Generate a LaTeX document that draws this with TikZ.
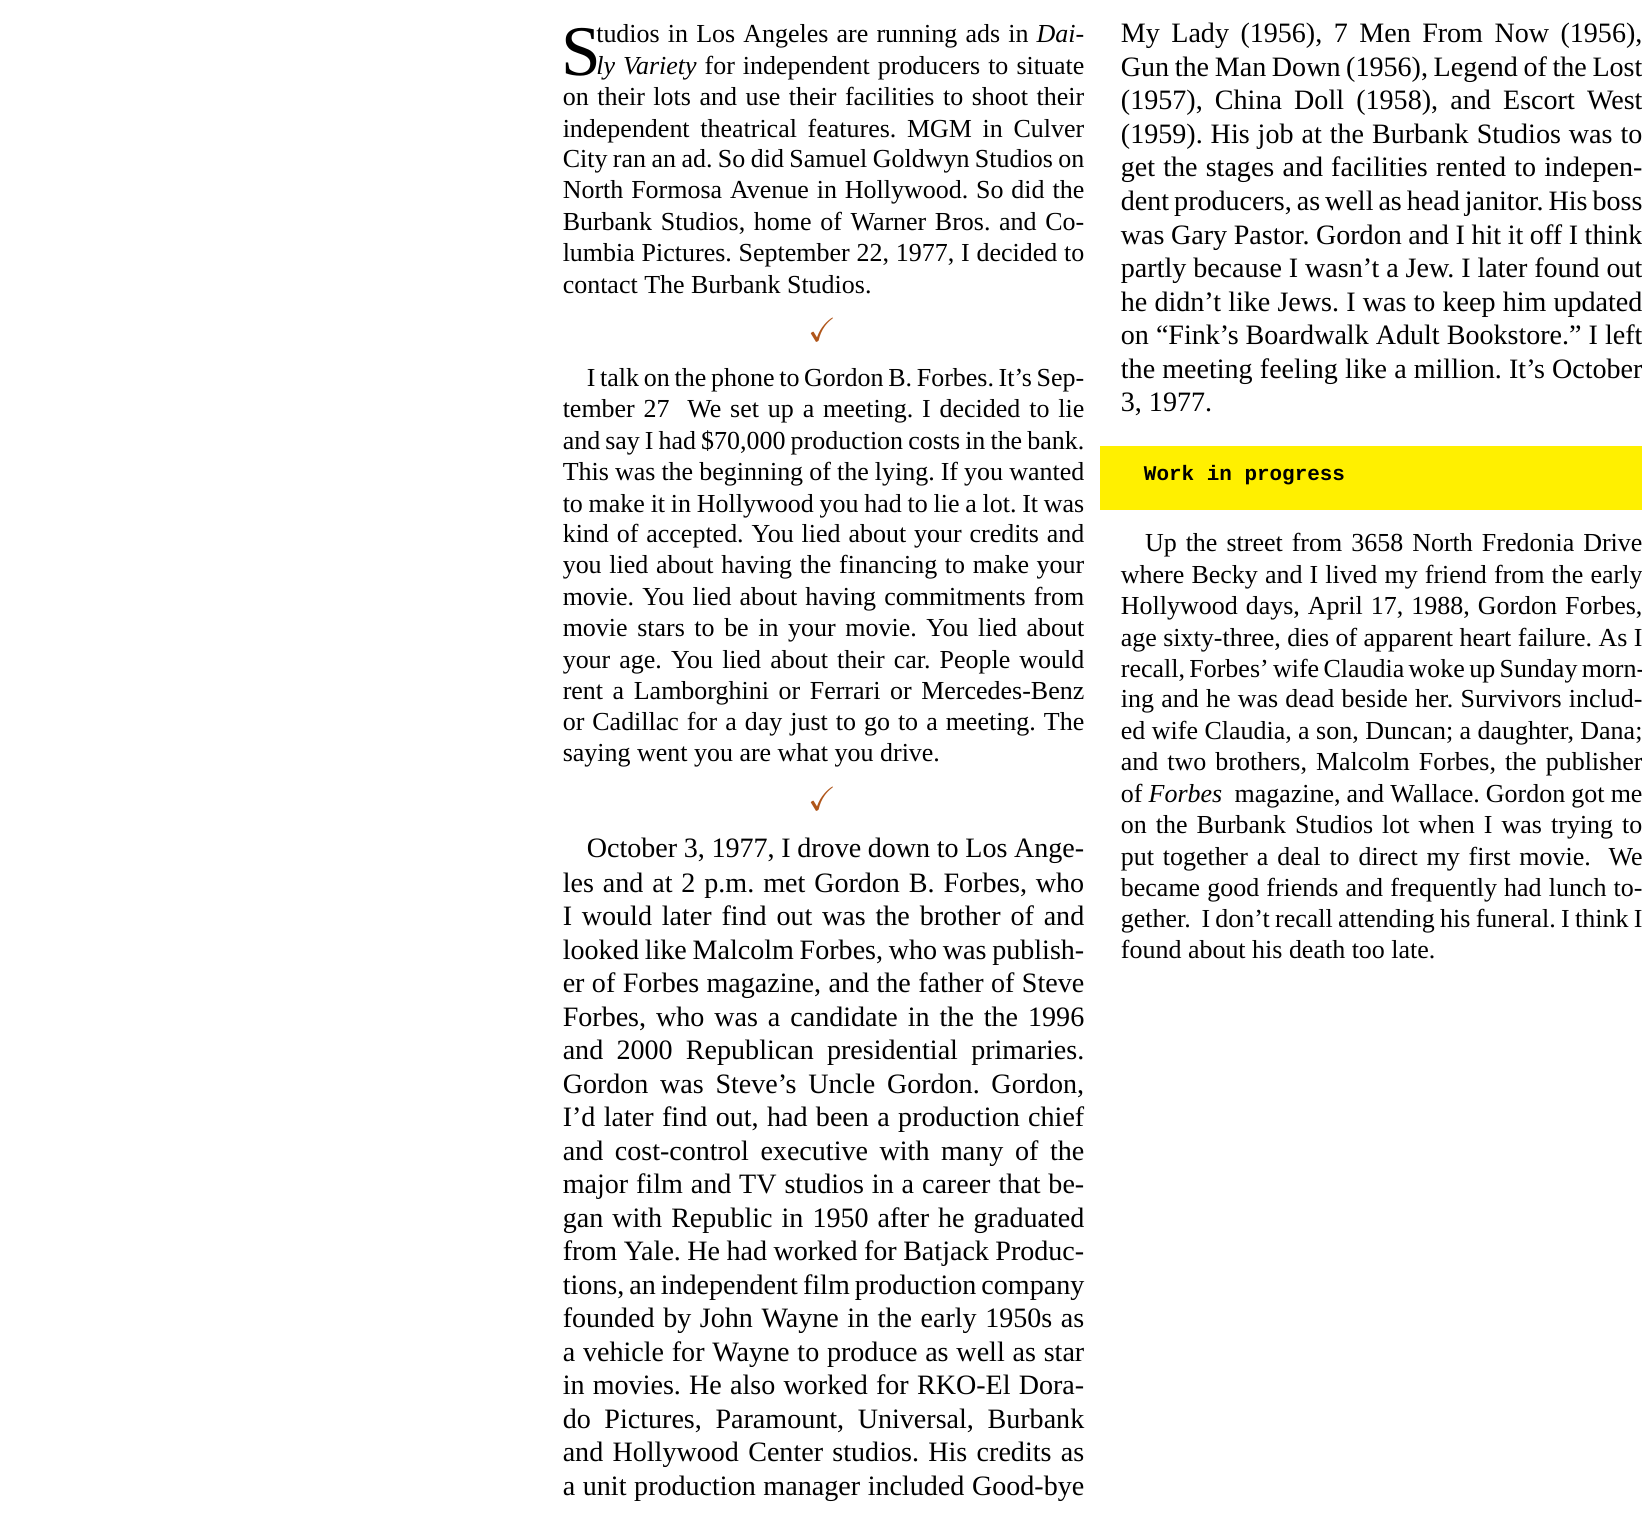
\documentclass[tikz,border=0pt]{standalone}
\usepackage{fontspec}
\usepackage{amssymb}
\setmainfont{Liberation Serif}
\newfontfamily\cour{Liberation Mono}
\definecolor{chk}{HTML}{B0561A}
\definecolor{yel}{HTML}{FFF000}
\frenchspacing
\newcommand\fa{\fontsize{12.4}{15}\selectfont}
\newcommand\fb{\fontsize{13.4}{16}\selectfont}
\newcommand\jw[4]{\node[anchor=base west,inner sep=0] at (#1,#2+7) {\makebox[#3pt][s]{#4}};}
\newcommand\nl[3]{\node[anchor=base west,inner sep=0] at (#1,#2+7) {#3};}
\begin{document}
\begin{tikzpicture}[x=0.5pt,y=-0.5pt]
\useasboundingbox (0,0) rectangle (1568,1448);
\fill[yel] (1050,426) rectangle (1568,487);
\node[anchor=west,inner sep=0] at (1092,454) {\cour\bfseries\fontsize{10}{12}\selectfont Work in progress};
% column 1 top
\fa
\node[anchor=base west,inner sep=0] at (536,72) {\fontsize{34}{34}\selectfont S};
\jw{569}{34}{233}{tudios in Los Angeles are running ads in \textit{Dai-}}
\jw{569}{64}{233}{\textit{ly Variety} for independent producers to situate}
\jw{537}{94}{249}{on their lots and use their facilities to shoot their}
\jw{537}{124}{249}{independent theatrical features. MGM in Culver}
\jw{537}{153}{249}{City ran an ad. So did Samuel Goldwyn Studios on}
\jw{537}{183}{249}{North Formosa Avenue in Hollywood. So did the}
\jw{537}{213}{249}{Burbank Studios, home of Warner Bros. and Co-}
\jw{537}{243}{249}{lumbia Pictures. September 22, 1977, I decided to}
\nl{537}{273}{contact The Burbank Studios.}
\node[text=chk,inner sep=0] (c1) at (785,315) {\fontsize{16}{16}\selectfont\checkmark};
\jw{560}{362}{237.5}{I talk on the phone to Gordon B. Forbes. It's Sep-}
\jw{537}{392}{249}{tember 27\ \ We set up a meeting. I decided to lie}
\jw{537}{422}{249}{and say I had \$70,000 production costs in the bank.}
\jw{537}{452}{249}{This was the beginning of the lying. If you wanted}
\jw{537}{482}{249}{to make it in Hollywood you had to lie a lot. It was}
\jw{537}{511}{249}{kind of accepted. You lied about your credits and}
\jw{537}{541}{249}{you lied about having the financing to make your}
\jw{537}{571}{249}{movie. You lied about having commitments from}
\jw{537}{601}{249}{movie stars to be in your movie. You lied about}
\jw{537}{631}{249}{your age. You lied about their car. People would}
\jw{537}{661}{249}{rent a Lamborghini or Ferrari or Mercedes-Benz}
\jw{537}{691}{249}{or Cadillac for a day just to go to a meeting. The}
\nl{537}{720}{saying went you are what you drive.}
\node[text=chk,inner sep=0] (c2) at (785,763) {\fontsize{16}{16}\selectfont\checkmark};
\fb
\jw{560}{812}{237.5}{October 3, 1977, I drove down to Los Ange-}
\jw{537}{845}{249}{les and at 2 p.m. met Gordon B. Forbes, who}
\jw{537}{877}{249}{I would later find out was the brother of and}
\jw{537}{909}{249}{looked like Malcolm Forbes, who was publish-}
\jw{537}{941}{249}{er of Forbes magazine, and the father of Steve}
\jw{537}{973}{249}{Forbes, who was a candidate in the the 1996}
\jw{537}{1005}{249}{and 2000 Republican presidential primaries.}
\jw{537}{1037}{249}{Gordon was Steve's Uncle Gordon. Gordon,}
\jw{537}{1069}{249}{I'd later find out, had been a production chief}
\jw{537}{1101}{249}{and cost-control executive with many of the}
\jw{537}{1133}{249}{major film and TV studios in a career that be-}
\jw{537}{1165}{249}{gan with Republic in 1950 after he graduated}
\jw{537}{1197}{249}{from Yale. He had worked for Batjack Produc-}
\jw{537}{1229}{249}{tions, an independent film production company}
\jw{537}{1261}{249}{founded by John Wayne in the early 1950s as}
\jw{537}{1293}{249}{a vehicle for Wayne to produce as well as star}
\jw{537}{1325}{249}{in movies. He also worked for RKO-El Dora-}
\jw{537}{1357}{249}{do Pictures, Paramount, Universal, Burbank}
\jw{537}{1389}{249}{and Hollywood Center studios. His credits as}
\jw{537}{1421}{249}{a unit production manager included Good-bye}
% column 2 top
\jw{1070}{34}{249}{My Lady (1956), 7 Men From Now (1956),}
\jw{1070}{66}{249}{Gun the Man Down (1956), Legend of the Lost}
\jw{1070}{98}{249}{(1957), China Doll (1958), and Escort West}
\jw{1070}{130}{249}{(1959). His job at the Burbank Studios was to}
\jw{1070}{162}{249}{get the stages and facilities rented to indepen-}
\jw{1070}{194}{249}{dent producers, as well as head janitor. His boss}
\jw{1070}{226}{249}{was Gary Pastor. Gordon and I hit it off I think}
\jw{1070}{258}{249}{partly because I wasn't a Jew. I later found out}
\jw{1070}{290}{249}{he didn't like Jews. I was to keep him updated}
\jw{1070}{322}{249}{on ``Fink's Boardwalk Adult Bookstore.'' I left}
\jw{1070}{354}{249}{the meeting feeling like a million. It's October}
\nl{1070}{386}{3, 1977.}
% column 2 bottom
\fa
\jw{1093}{520}{237.5}{Up the street from 3658 North Fredonia Drive}
\jw{1070}{550}{249}{where Becky and I lived my friend from the early}
\jw{1070}{580}{249}{Hollywood days, April 17, 1988, Gordon Forbes,}
\jw{1070}{610}{249}{age sixty-three, dies of apparent heart failure. As I}
\jw{1070}{640}{249}{recall, Forbes' wife Claudia woke up Sunday morn-}
\jw{1070}{669}{249}{ing and he was dead beside her. Survivors includ-}
\jw{1070}{699}{249}{ed wife Claudia, a son, Duncan; a daughter, Dana;}
\jw{1070}{729}{249}{and two brothers, Malcolm Forbes, the publisher}
\jw{1070}{759}{249}{of \textit{Forbes}\ \ magazine, and Wallace. Gordon got me}
\jw{1070}{789}{249}{on the Burbank Studios lot when I was trying to}
\jw{1070}{819}{249}{put together a deal to direct my first movie.\ \ We}
\jw{1070}{849}{249}{became good friends and frequently had lunch to-}
\jw{1070}{879}{249}{gether.\ \ I don't recall attending his funeral. I think I}
\nl{1070}{908}{found about his death too late.}
\end{tikzpicture}
\end{document}
